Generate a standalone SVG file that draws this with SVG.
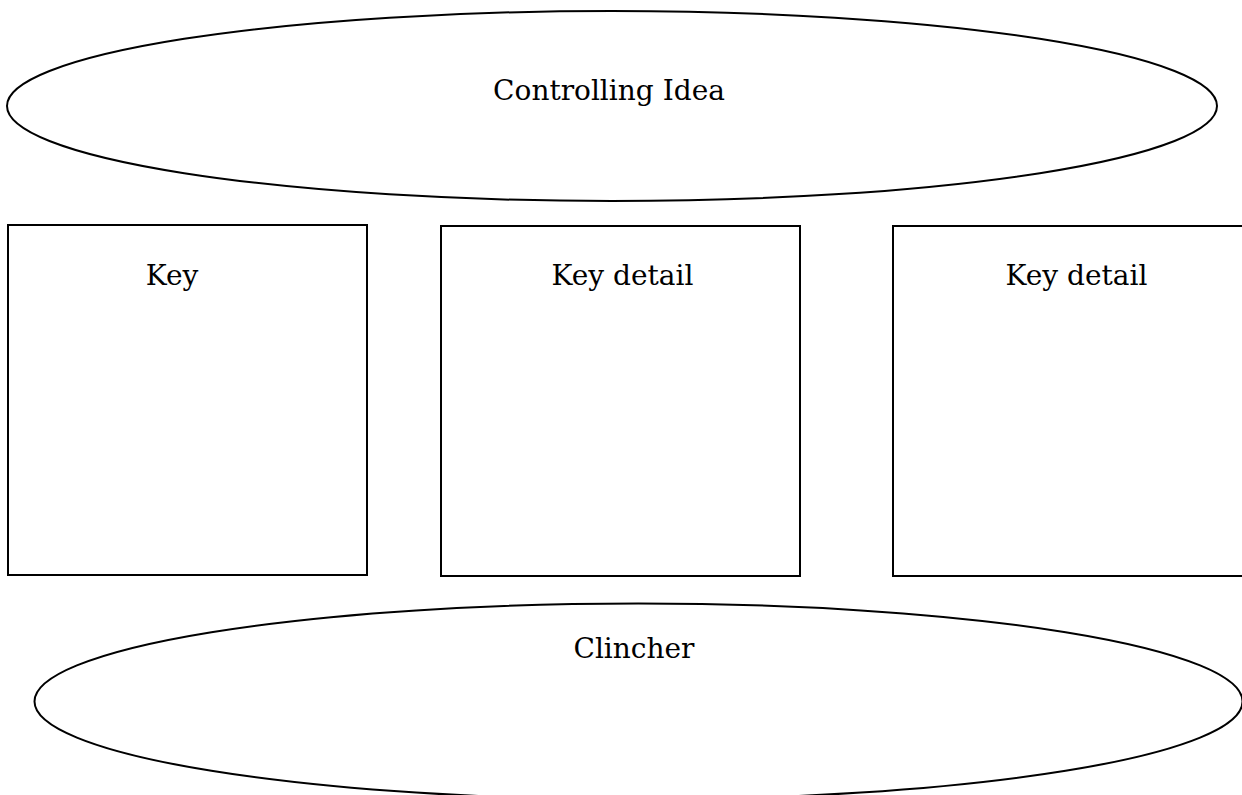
<svg xmlns="http://www.w3.org/2000/svg" width="1242" height="795" viewBox="0 0 1242 795">
<style>
.s{fill:#fff;stroke:#000;stroke-width:2}
.t{font-family:"DejaVu Serif","Liberation Serif",serif;font-size:28px;fill:#000;text-anchor:middle}
</style>
<rect width="1242" height="795" fill="#fff"/>
<g id="controlling-idea">
<ellipse class="s" cx="612" cy="106" rx="605" ry="95"/>
<text class="t" x="609" y="100">Controlling Idea</text>
</g>
<g id="key">
<rect class="s" x="8" y="225" width="359" height="350"/>
<text class="t" x="172" y="285">Key</text>
</g>
<g id="key-detail-1">
<rect class="s" x="441" y="226" width="359" height="350"/>
<text class="t" x="622.5" y="285">Key detail</text>
</g>
<g id="key-detail-2">
<rect class="s" x="893" y="226" width="359" height="350"/>
<text class="t" x="1076.5" y="285">Key detail</text>
</g>
<g id="clincher">
<ellipse class="s" cx="638.5" cy="701.5" rx="604" ry="98"/>
<text class="t" x="634" y="658">Clincher</text>
</g>
<g id="connectors"></g>
</svg>
